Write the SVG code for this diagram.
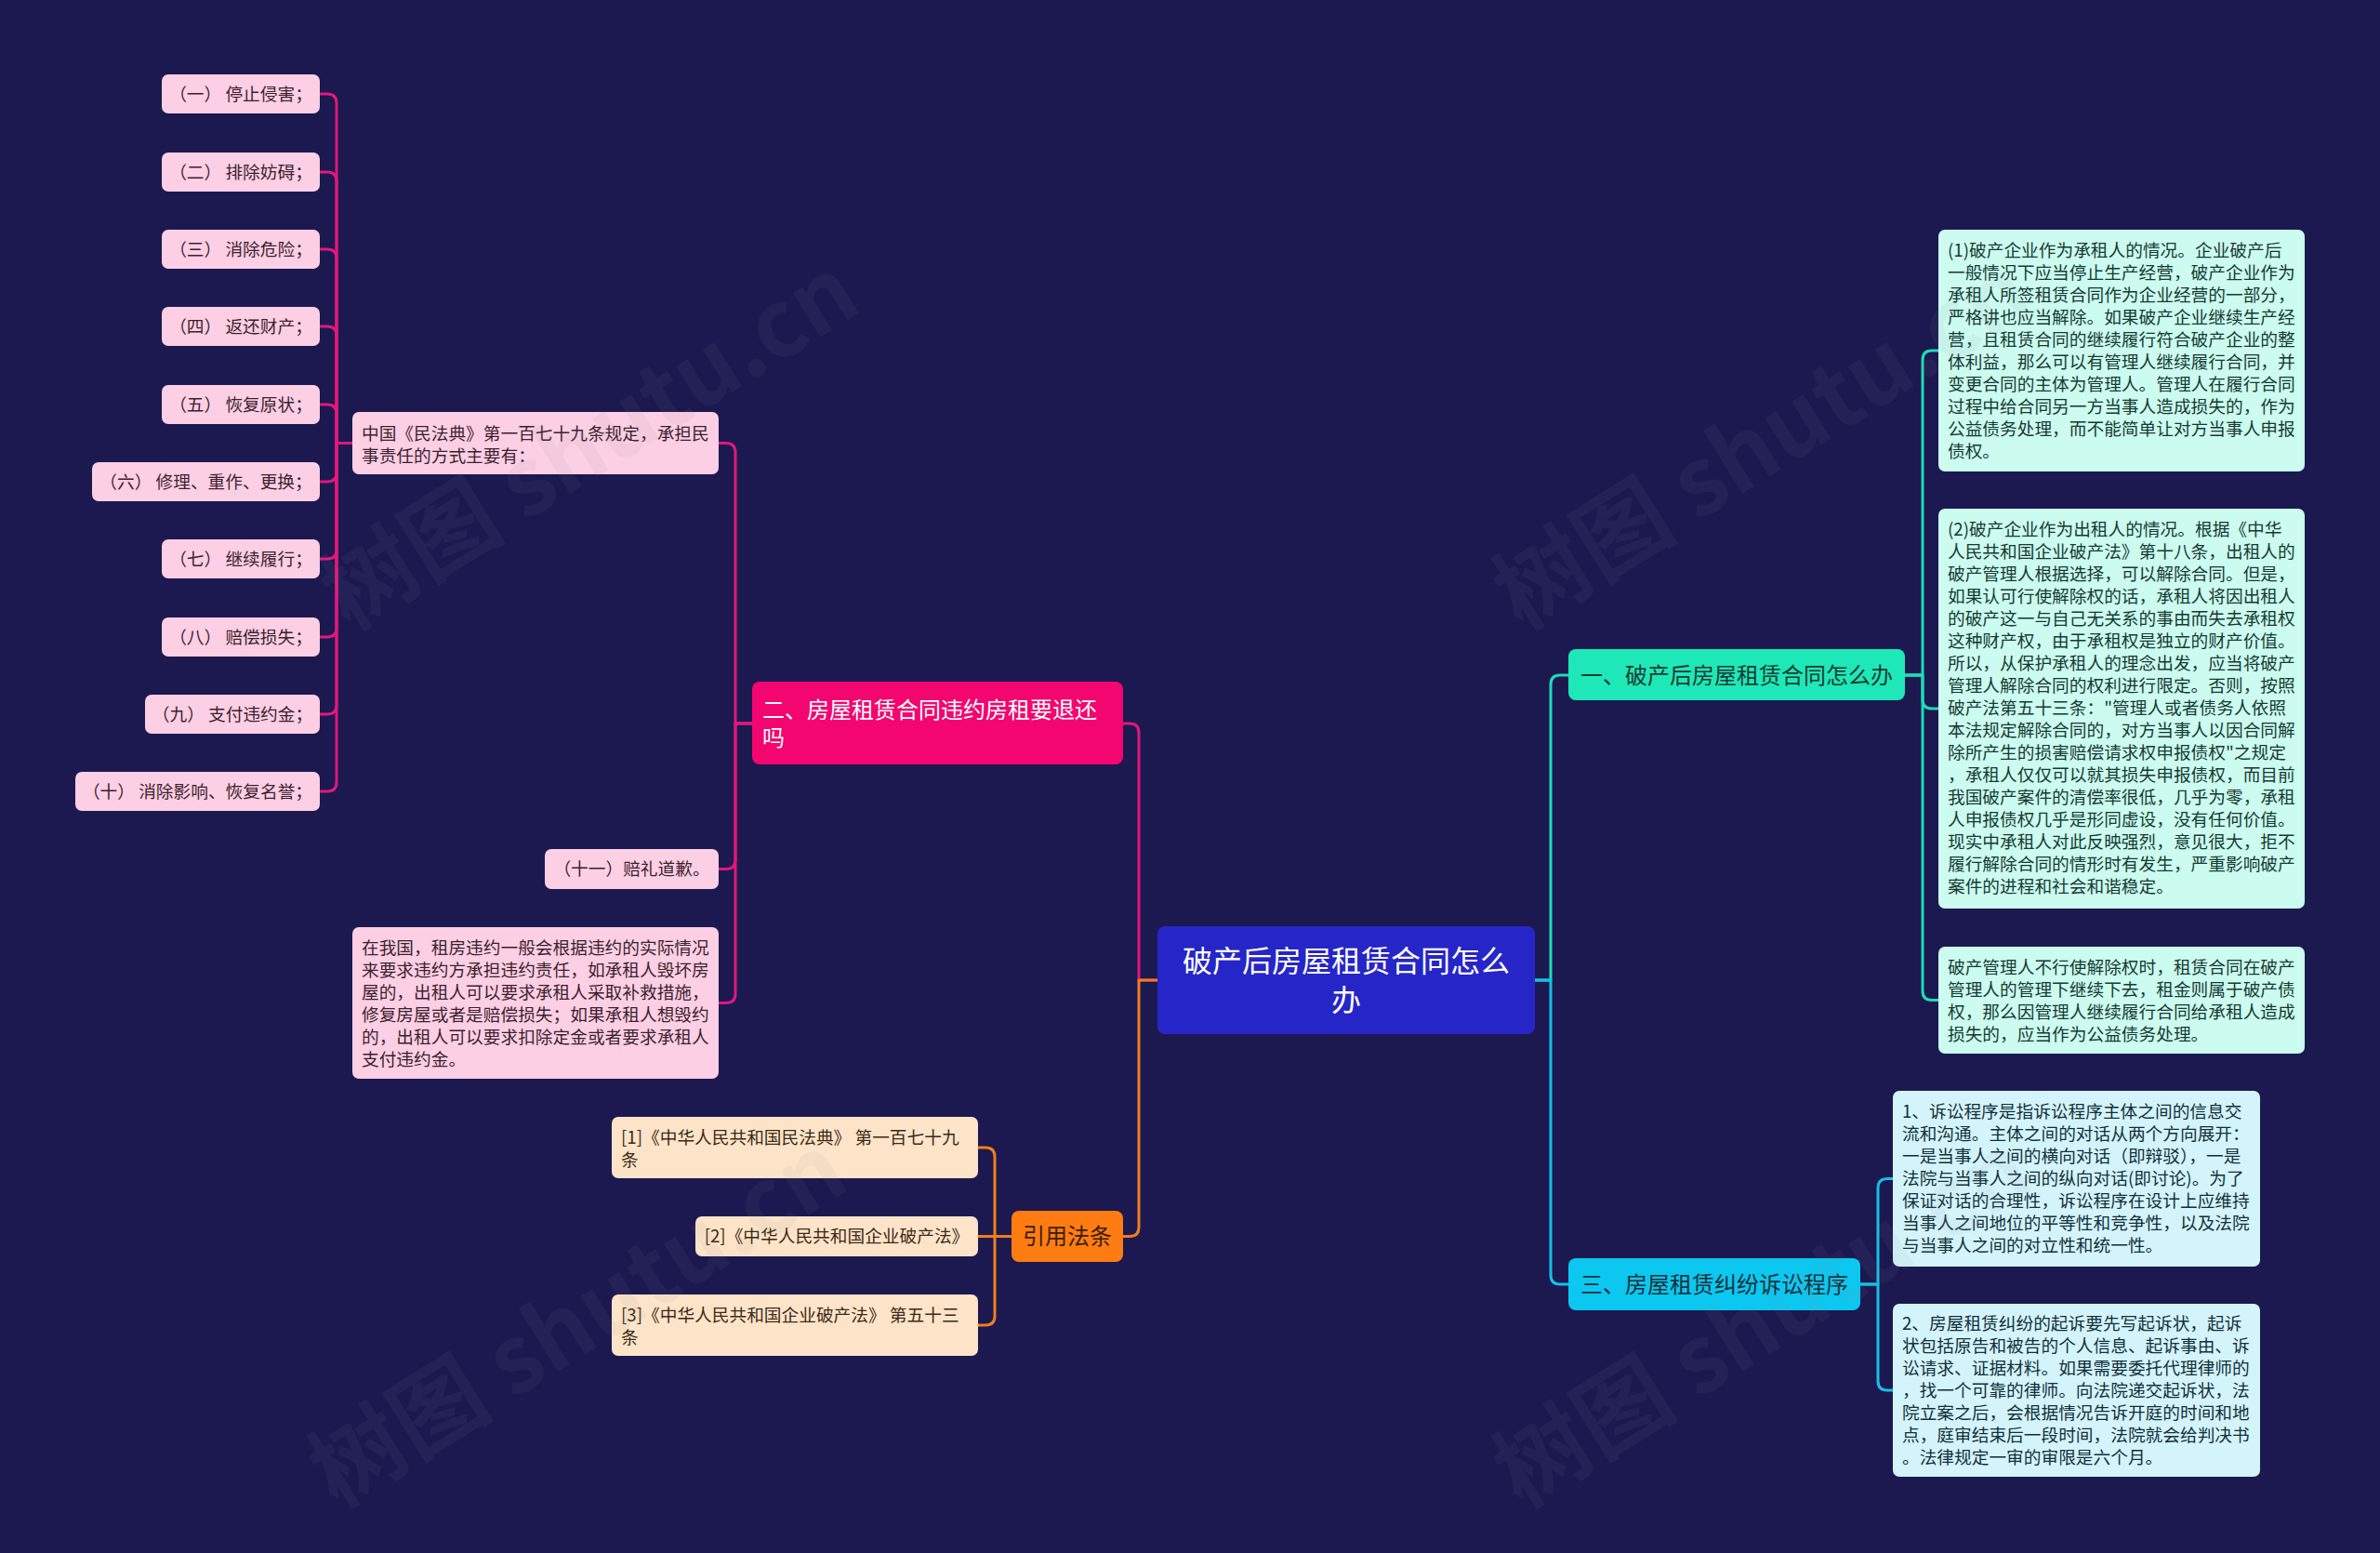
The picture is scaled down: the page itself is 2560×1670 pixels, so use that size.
<svg xmlns="http://www.w3.org/2000/svg" width="2560" height="1670" viewBox="0 0 2560 1670">
<style>
.t{font-family:"Noto Sans CJK SC","Noto Sans",sans-serif;font-size:18.7px}
.f24{font-size:24px}
.f32{font-size:32px}
.c{text-anchor:middle}
.ln{fill:none;stroke-width:3;stroke-linecap:round;stroke-linejoin:round}
.pk{stroke:#e2177c}.or{stroke:#f07d1e}.tl{stroke:#1fdcb6}.cy{stroke:#18bfe8}
.pl{fill:#fccfe4}.pt{fill:#3d1f2e}
.pe{fill:#fde4c8}.ot{fill:#3b2a17}
.mi{fill:#ccfbef}.mt{fill:#163a33}
.lc{fill:#d4f4fb}.ct{fill:#12303a}
.wm{font-family:"Noto Sans CJK SC","DejaVu Sans",sans-serif;font-size:100px;font-weight:bold;fill:#8a8aa0;opacity:0.07}
</style>
<rect x="0" y="0" width="2560" height="1670" fill="#1b1950"/>
<g id="connectors">
<path class="ln pk" d="M1245,1054 H1225 V788 Q1225,778 1215,778 H1208"/>
<path class="ln or" d="M1245,1054 H1225 V1319.5 Q1225,1329.5 1215,1329.5 H1208"/>
<path class="ln tl" d="M1651,1054 H1668 V736 Q1668,726 1678,726 H1687"/>
<path class="ln cy" d="M1651,1054 H1668 V1371 Q1668,1381 1678,1381 H1687"/>
<path class="ln tl" d="M2049,726 H2068 V387 Q2068,377 2078,377 H2085"/>
<path class="ln tl" d="M2049,726 H2068 V752 Q2068,762 2078,762 H2085"/>
<path class="ln tl" d="M2049,726 H2068 V1065.5 Q2068,1075.5 2078,1075.5 H2085"/>
<path class="ln cy" d="M2001,1381 H2020 V1277.5 Q2020,1267.5 2030,1267.5 H2036"/>
<path class="ln cy" d="M2001,1381 H2020 V1485 Q2020,1495 2030,1495 H2036"/>
<path class="ln pk" d="M809,778 H791 V486.5 Q791,476.5 781,476.5 H773"/>
<path class="ln pk" d="M809,778 H791 V924.5 Q791,934.5 781,934.5 H773"/>
<path class="ln pk" d="M809,778 H791 V1068.5 Q791,1078.5 781,1078.5 H773"/>
<path class="ln pk" d="M379,476.5 H362 V111 Q362,101 352,101 H344"/>
<path class="ln pk" d="M379,476.5 H362 V195 Q362,185 352,185 H344"/>
<path class="ln pk" d="M379,476.5 H362 V278 Q362,268 352,268 H344"/>
<path class="ln pk" d="M379,476.5 H362 V361 Q362,351 352,351 H344"/>
<path class="ln pk" d="M379,476.5 H362 V445 Q362,435 352,435 H344"/>
<path class="ln pk" d="M379,476.5 H362 V508 Q362,518 352,518 H344"/>
<path class="ln pk" d="M379,476.5 H362 V591 Q362,601 352,601 H344"/>
<path class="ln pk" d="M379,476.5 H362 V675 Q362,685 352,685 H344"/>
<path class="ln pk" d="M379,476.5 H362 V758 Q362,768 352,768 H344"/>
<path class="ln pk" d="M379,476.5 H362 V841 Q362,851 352,851 H344"/>
<path class="ln or" d="M1088,1329.5 H1070 V1244 Q1070,1234 1060,1234 H1052"/>
<path class="ln or" d="M1088,1329.5 H1052"/>
<path class="ln or" d="M1088,1329.5 H1070 V1415 Q1070,1425 1060,1425 H1052"/>
</g>
<g id="n-root">
<rect x="1245" y="996" width="406" height="116" rx="8" fill="#2626c8"/>
<text class="t f32 c" x="1448" y="1045" fill="#ffffff">破产后房屋租赁合同怎么</text>
<text class="t f32 c" x="1448" y="1087" fill="#ffffff">办</text>
</g>
<g id="n-b2">
<rect x="809" y="733" width="399" height="89" rx="8" fill="#f3066f"/>
<text class="t f24" x="820" y="772" fill="#ffffff">二、房屋租赁合同违约房租要退还</text>
<text class="t f24" x="820" y="802" fill="#ffffff">吗</text>
</g>
<g id="n-b4">
<rect x="1088" y="1302" width="120" height="55" rx="8" fill="#ff7c12"/>
<text class="t f24 c" x="1148" y="1338" fill="#3a1d00">引用法条</text>
</g>
<g id="n-b1">
<rect x="1687" y="698" width="362" height="55" rx="8" fill="#1ee8b7"/>
<text class="t f24 c" x="1868" y="735" fill="#163a33">一、破产后房屋租赁合同怎么办</text>
</g>
<g id="n-b3">
<rect x="1687" y="1353" width="314" height="56" rx="8" fill="#0cc7ef"/>
<text class="t f24 c" x="1844" y="1390" fill="#12303a">三、房屋租赁纠纷诉讼程序</text>
</g>
<g id="n-b1c1">
<rect class="mi" x="2085" y="247" width="394" height="260" rx="7"/>
<text class="t mt" x="2095" y="276"><tspan x="2095" dy="0">(1)破产企业作为承租人的情况。企业破产后</tspan><tspan x="2095" dy="24">一般情况下应当停止生产经营，破产企业作为</tspan><tspan x="2095" dy="24">承租人所签租赁合同作为企业经营的一部分，</tspan><tspan x="2095" dy="24">严格讲也应当解除。如果破产企业继续生产经</tspan><tspan x="2095" dy="24">营，且租赁合同的继续履行符合破产企业的整</tspan><tspan x="2095" dy="24">体利益，那么可以有管理人继续履行合同，并</tspan><tspan x="2095" dy="24">变更合同的主体为管理人。管理人在履行合同</tspan><tspan x="2095" dy="24">过程中给合同另一方当事人造成损失的，作为</tspan><tspan x="2095" dy="24">公益债务处理，而不能简单让对方当事人申报</tspan><tspan x="2095" dy="24">债权。</tspan></text>
</g>
<g id="n-b1c2">
<rect class="mi" x="2085" y="547" width="394" height="430" rx="7"/>
<text class="t mt" x="2095" y="576"><tspan x="2095" dy="0">(2)破产企业作为出租人的情况。根据《中华</tspan><tspan x="2095" dy="24">人民共和国企业破产法》第十八条，出租人的</tspan><tspan x="2095" dy="24">破产管理人根据选择，可以解除合同。但是，</tspan><tspan x="2095" dy="24">如果认可行使解除权的话，承租人将因出租人</tspan><tspan x="2095" dy="24">的破产这一与自己无关系的事由而失去承租权</tspan><tspan x="2095" dy="24">这种财产权，由于承租权是独立的财产价值。</tspan><tspan x="2095" dy="24">所以，从保护承租人的理念出发，应当将破产</tspan><tspan x="2095" dy="24">管理人解除合同的权利进行限定。否则，按照</tspan><tspan x="2095" dy="24">破产法第五十三条："管理人或者债务人依照</tspan><tspan x="2095" dy="24">本法规定解除合同的，对方当事人以因合同解</tspan><tspan x="2095" dy="24">除所产生的损害赔偿请求权申报债权"之规定</tspan><tspan x="2095" dy="24">，承租人仅仅可以就其损失申报债权，而目前</tspan><tspan x="2095" dy="24">我国破产案件的清偿率很低，几乎为零，承租</tspan><tspan x="2095" dy="24">人申报债权几乎是形同虚设，没有任何价值。</tspan><tspan x="2095" dy="24">现实中承租人对此反映强烈，意见很大，拒不</tspan><tspan x="2095" dy="24">履行解除合同的情形时有发生，严重影响破产</tspan><tspan x="2095" dy="24">案件的进程和社会和谐稳定。</tspan></text>
</g>
<g id="n-b1c3">
<rect class="mi" x="2085" y="1018" width="394" height="115" rx="7"/>
<text class="t mt" x="2095" y="1047"><tspan x="2095" dy="0">破产管理人不行使解除权时，租赁合同在破产</tspan><tspan x="2095" dy="24">管理人的管理下继续下去，租金则属于破产债</tspan><tspan x="2095" dy="24">权，那么因管理人继续履行合同给承租人造成</tspan><tspan x="2095" dy="24">损失的，应当作为公益债务处理。</tspan></text>
</g>
<g id="n-b3c1">
<rect class="lc" x="2036" y="1173" width="395" height="189" rx="7"/>
<text class="t ct" x="2046" y="1202"><tspan x="2046" dy="0">1、诉讼程序是指诉讼程序主体之间的信息交</tspan><tspan x="2046" dy="24">流和沟通。主体之间的对话从两个方向展开：</tspan><tspan x="2046" dy="24">一是当事人之间的横向对话（即辩驳），一是</tspan><tspan x="2046" dy="24">法院与当事人之间的纵向对话(即讨论)。为了</tspan><tspan x="2046" dy="24">保证对话的合理性，诉讼程序在设计上应维持</tspan><tspan x="2046" dy="24">当事人之间地位的平等性和竞争性，以及法院</tspan><tspan x="2046" dy="24">与当事人之间的对立性和统一性。</tspan></text>
</g>
<g id="n-b3c2">
<rect class="lc" x="2036" y="1402" width="395" height="186" rx="7"/>
<text class="t ct" x="2046" y="1430"><tspan x="2046" dy="0">2、房屋租赁纠纷的起诉要先写起诉状，起诉</tspan><tspan x="2046" dy="24">状包括原告和被告的个人信息、起诉事由、诉</tspan><tspan x="2046" dy="24">讼请求、证据材料。如果需要委托代理律师的</tspan><tspan x="2046" dy="24">，找一个可靠的律师。向法院递交起诉状，法</tspan><tspan x="2046" dy="24">院立案之后，会根据情况告诉开庭的时间和地</tspan><tspan x="2046" dy="24">点，庭审结束后一段时间，法院就会给判决书</tspan><tspan x="2046" dy="24">。法律规定一审的审限是六个月。</tspan></text>
</g>
<g id="n-b2c1">
<rect class="pl" x="379" y="443" width="394" height="67" rx="7"/>
<text class="t pt" x="389" y="473"><tspan x="389" dy="0">中国《民法典》第一百七十九条规定，承担民</tspan><tspan x="389" dy="24">事责任的方式主要有：</tspan></text>
</g>
<g id="n-b2c2">
<rect class="pl" x="586" y="913" width="187" height="43" rx="7"/>
<text class="t c pt" x="679.5" y="941">（十一）赔礼道歉。</text>
</g>
<g id="n-b2c3">
<rect class="pl" x="379" y="997" width="394" height="163" rx="7"/>
<text class="t pt" x="389" y="1026"><tspan x="389" dy="0">在我国，租房违约一般会根据违约的实际情况</tspan><tspan x="389" dy="24">来要求违约方承担违约责任，如承租人毁坏房</tspan><tspan x="389" dy="24">屋的，出租人可以要求承租人采取补救措施，</tspan><tspan x="389" dy="24">修复房屋或者是赔偿损失；如果承租人想毁约</tspan><tspan x="389" dy="24">的，出租人可以要求扣除定金或者要求承租人</tspan><tspan x="389" dy="24">支付违约金。</tspan></text>
</g>
<g id="n-l1"><rect class="pl" x="174" y="80" width="170" height="42" rx="7"/><text class="t c pt" x="259" y="108">（一） 停止侵害；</text></g>
<g id="n-l2"><rect class="pl" x="174" y="164" width="170" height="42" rx="7"/><text class="t c pt" x="259" y="192">（二） 排除妨碍；</text></g>
<g id="n-l3"><rect class="pl" x="174" y="247" width="170" height="42" rx="7"/><text class="t c pt" x="259" y="275">（三） 消除危险；</text></g>
<g id="n-l4"><rect class="pl" x="174" y="330" width="170" height="42" rx="7"/><text class="t c pt" x="259" y="358">（四） 返还财产；</text></g>
<g id="n-l5"><rect class="pl" x="174" y="414" width="170" height="42" rx="7"/><text class="t c pt" x="259" y="442">（五） 恢复原状；</text></g>
<g id="n-l6"><rect class="pl" x="99" y="497" width="245" height="42" rx="7"/><text class="t c pt" x="221.5" y="525">（六） 修理、重作、更换；</text></g>
<g id="n-l7"><rect class="pl" x="174" y="580" width="170" height="42" rx="7"/><text class="t c pt" x="259" y="608">（七） 继续履行；</text></g>
<g id="n-l8"><rect class="pl" x="174" y="664" width="170" height="42" rx="7"/><text class="t c pt" x="259" y="692">（八） 赔偿损失；</text></g>
<g id="n-l9"><rect class="pl" x="156" y="747" width="188" height="42" rx="7"/><text class="t c pt" x="250" y="775">（九） 支付违约金；</text></g>
<g id="n-l10"><rect class="pl" x="81" y="830" width="263" height="42" rx="7"/><text class="t c pt" x="212.5" y="858">（十） 消除影响、恢复名誉；</text></g>
<g id="n-r1">
<rect class="pe" x="658" y="1201" width="394" height="66" rx="7"/>
<text class="t ot" x="668" y="1230"><tspan x="668" dy="0">[1]《中华人民共和国民法典》 第一百七十九</tspan><tspan x="668" dy="24">条</tspan></text>
</g>
<g id="n-r2">
<rect class="pe" x="748" y="1308" width="304" height="43" rx="7"/>
<text class="t c ot" x="900" y="1336">[2]《中华人民共和国企业破产法》</text>
</g>
<g id="n-r3">
<rect class="pe" x="658" y="1392" width="394" height="66" rx="7"/>
<text class="t ot" x="668" y="1421"><tspan x="668" dy="0">[3]《中华人民共和国企业破产法》 第五十三</tspan><tspan x="668" dy="24">条</tspan></text>
</g>
<g id="watermarks">
<text class="wm" transform="translate(653,506) rotate(-32)" text-anchor="middle">树图 shutu.cn</text>
<text class="wm" transform="translate(1914,506) rotate(-32)" text-anchor="middle">树图 shutu.cn</text>
<text class="wm" transform="translate(640,1450) rotate(-32)" text-anchor="middle">树图 shutu.cn</text>
<text class="wm" transform="translate(1914,1450) rotate(-32)" text-anchor="middle">树图 shutu.cn</text>
</g>
</svg>
